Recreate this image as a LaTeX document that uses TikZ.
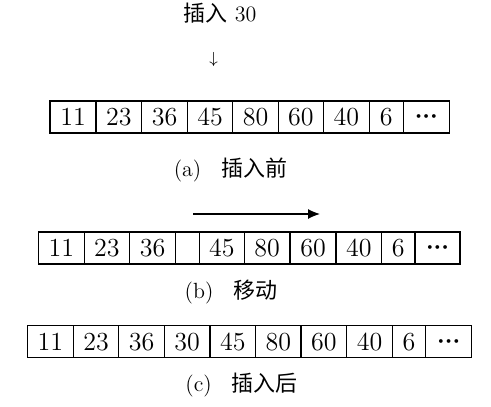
\documentclass[tikz,border=0pt]{standalone}
\usepackage{fontspec}
\newfontfamily\cjk{Noto Sans CJK SC}
\usetikzlibrary{arrows.meta}

\newcommand{\celldots}{{\boldmath${\cdot}{\cdot}{\cdot}$}}

\tikzset{
    cellbox/.style={draw, line width=0.6pt, minimum height=16pt, inner sep=0pt, font=\fontsize{13}{15}\selectfont},
    capbox/.style={font=\fontsize{11}{13}\selectfont}
}

\begin{document}
\begin{tikzpicture}[x=0.5pt, y=-0.5pt]
    \useasboundingbox (0,0) rectangle (491,406);

    % Elemento da inserire
    \node[capbox] (ins) at (220,13) {{\cjk 插入}~30};
    \node[font=\footnotesize] (down) at (213.5,60) {$\downarrow$};

    % (a) prima dell'inserimento
    \foreach \xl/\xr/\txt/\nm in {50/96/11/a1, 96/141.7/23/a2, 141.7/187.7/36/a3, 187.7/232.7/45/a4, 232.7/278.3/80/a5, 278.3/323.3/60/a6, 323.3/369.3/40/a7, 369.3/403.3/6/a8, 403.3/449.3/\celldots/a9} {
        \pgfmathsetmacro\cw{(\xr-\xl)*0.5}
        \pgfmathsetmacro\xm{(\xl+\xr)/2}
        \node[cellbox, minimum width=\cw pt] (\nm) at (\xm,117) {\txt};
    }
    \node[capbox] (capa) at (230.5,170) {(a)\hspace{0.9em}{\cjk 插入前}};

    % (b) spostamento
    \coordinate (mvs) at (193.3,214);
    \coordinate (mve) at (320,214);
    \draw[line width=0.6pt, -{Latex[length=6pt,width=5pt]}] (mvs) -- (mve);
    \foreach \xl/\xr/\txt/\nm in {38.3/84.3/11/b1, 84.3/129.3/23/b2, 129.3/175.7/36/b3, 175.7/199.3//b4, 199.3/244.3/45/b5, 244.3/290/80/b6, 290/336/60/b7, 336/381.7/40/b8, 381.7/415/6/b9, 415/460/\celldots/b10} {
        \pgfmathsetmacro\cw{(\xr-\xl)*0.5}
        \pgfmathsetmacro\xm{(\xl+\xr)/2}
        \node[cellbox, minimum width=\cw pt] (\nm) at (\xm,248) {\txt};
    }
    \node[capbox] (capb) at (231,292) {(b)\hspace{0.9em}{\cjk 移动}};

    % (c) dopo l'inserimento
    \foreach \xl/\xr/\txt/\nm in {27.3/73.3/11/c1, 73.3/118.7/23/c2, 118.7/164.3/36/c3, 164.3/210/30/c4, 210/255.7/45/c5, 255.7/301/80/c6, 301/346.7/60/c7, 346.7/392.3/40/c8, 392.3/425.7/6/c9, 425.7/471.7/\celldots/c10} {
        \pgfmathsetmacro\cw{(\xr-\xl)*0.5}
        \pgfmathsetmacro\xm{(\xl+\xr)/2}
        \node[cellbox, minimum width=\cw pt] (\nm) at (\xm,341.7) {\txt};
    }
    \node[capbox] (capc) at (241.5,385) {(c)\hspace{0.9em}{\cjk 插入后}};
\end{tikzpicture}
\end{document}
